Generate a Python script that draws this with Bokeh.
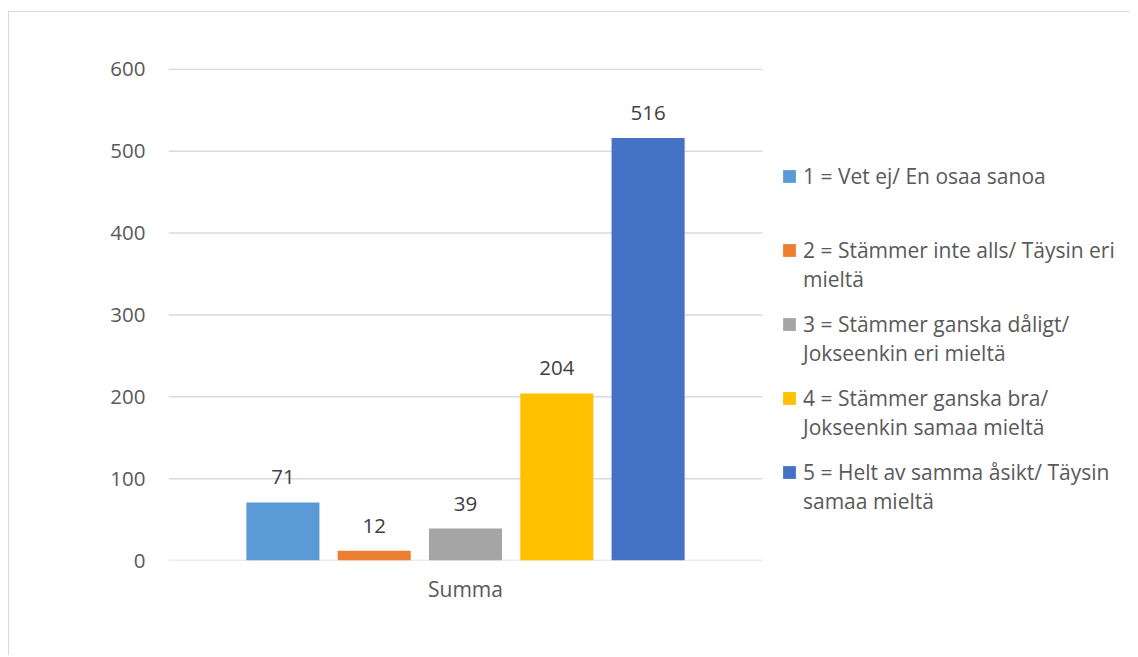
from bokeh.plotting import figure
from bokeh.models import ColumnDataSource, Range1d, Legend, LegendItem
from bokeh.core.properties import value
from bokeh.embed import file_html
from bokeh.resources import INLINE

category = ["Summa"]
series_line1 = [
    "1 = Vet ej/ En osaa sanoa",
    "2 = Stämmer inte alls/ Täysin eri",
    "3 = Stämmer ganska dåligt/",
    "4 = Stämmer ganska bra/",
    "5 = Helt av samma åsikt/ Täysin",
]
series_line2 = [
    "",
    "mieltä",
    "Jokseenkin eri mieltä",
    "Jokseenkin samaa mieltä",
    "samaa mieltä",
]
values = [71, 12, 39, 204, 516]
colors = ["#5B9BD5", "#ED7D31", "#A5A5A5", "#FFC000", "#4472C4"]
y_ticks = [0, 100, 200, 300, 400, 500, 600]

FONT = "Open Sans"
FS_NUM = "20.5px"
FS_CAT = "21px"
FS_LEG = "21px"

# layout: category band occupies the first 594 px of a wider frame
BAND_PX = 594
FRAME_W = 962
FRAME_H = 492

p = figure(
    frame_width=FRAME_W, frame_height=FRAME_H,
    x_range=Range1d(0, FRAME_W / BAND_PX),
    y_range=Range1d(0, 601),
    output_backend="svg", toolbar_location=None,
    min_border_left=159, min_border_right=0,
    min_border_top=56, min_border_bottom=95,
)
p.styles = {"margin-left": "8px", "margin-top": "11px",
            "border-left": "1px solid #d9d9d9", "border-top": "1px solid #d9d9d9"}
p.outline_line_color = None
p.background_fill_color = "white"
p.border_fill_color = "white"
p.xgrid.grid_line_color = None
p.ygrid.grid_line_color = None

# gridlines across the category band only (0 line acts as the axis line)
p.segment(x0=0, x1=len(category), y0=y_ticks, y1=y_ticks,
          line_color="#D9D9D9", line_width=1.5)

p.yaxis.ticker = y_ticks
p.yaxis.axis_line_color = None
p.yaxis.major_tick_line_color = None
p.yaxis.minor_tick_line_color = None
p.yaxis.major_label_text_font = FONT
p.yaxis.major_label_text_font_size = FS_NUM
p.yaxis.major_label_text_color = "#595959"
p.yaxis.major_label_standoff = 17

cat_pos = [i + 0.5 for i in range(len(category))]
p.xaxis.ticker = cat_pos
p.xaxis.major_label_overrides = {cp: c for cp, c in zip(cat_pos, category)}
p.xaxis.axis_line_color = None
p.xaxis.major_tick_line_color = None
p.xaxis.minor_tick_line_color = None
p.xaxis.major_label_text_font = FONT
p.xaxis.major_label_text_font_size = FS_CAT
p.xaxis.major_label_text_color = "#595959"
p.xaxis.major_label_standoff = 8

step = 0.1537
bar_w = 0.123
items_a = []
items_b = []
for i, (l1, l2, v, c) in enumerate(zip(series_line1, series_line2, values, colors)):
    xpos = [cp + (i - 2) * step for cp in cat_pos]
    src = ColumnDataSource(dict(x=xpos, val=[v], lab=[str(v)]))
    r = p.vbar(x="x", top="val", width=bar_w, source=src,
               fill_color=c, line_color=None)
    p.text(x="x", y="val", text="lab", source=src,
           text_align="center", text_baseline="bottom", y_offset=-18,
           text_font=value(FONT), text_font_size=FS_NUM, text_color="#404040")
    items_a.append(LegendItem(label=l1, renderers=[r]))
    if l2:
        ghost = p.vbar(x="x", top="val", width=bar_w, source=src,
                       fill_alpha=0, line_alpha=0)
        items_b.append(LegendItem(label=l2, renderers=[ghost]))

common = dict(label_text_font=FONT, label_text_font_size=FS_LEG,
              label_text_color="#595959", glyph_width=16, glyph_height=16,
              label_standoff=6, spacing=44, padding=0, margin=0,
              border_line_color=None, background_fill_alpha=0,
              label_height=30)
legend_a = Legend(items=items_a, location=(613, 73), **common)
legend_b = Legend(items=items_b, location=(613, 44), **common)
p.add_layout(legend_a, "center")
p.add_layout(legend_b, "center")

open("out.html", "w").write(file_html(p, INLINE))
